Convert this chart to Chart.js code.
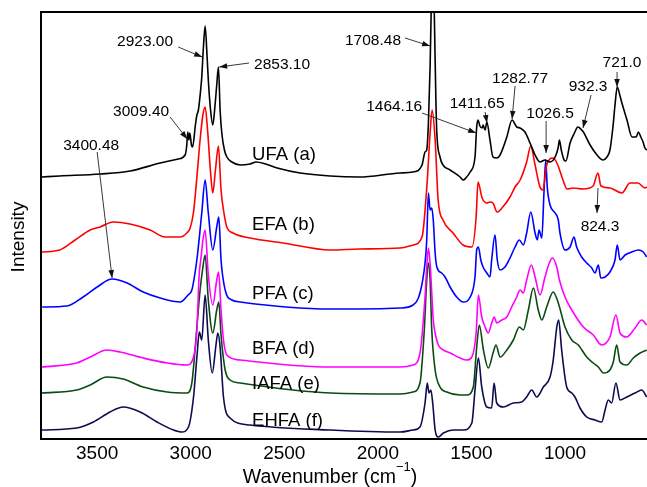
<!DOCTYPE html>
<html><head><meta charset="utf-8">
<script src="https://cdn.jsdelivr.net/npm/chart.js@4/dist/chart.umd.min.js"></script>
<style>html,body{margin:0;padding:0;background:#fff;overflow:hidden}</style>
</head><body>
<canvas id="c" width="647" height="487"></canvas>
<script>
// ---- data (wavenumber cm^-1, relative intensity with stacking offset) ----
const tickValues = [3500, 3000, 2500, 2000, 1500, 1000];

const wUFA = [3795,3700,3484,3324,3163,3067,3030,3021,3016,3010,3005,2996,2990,2975,2967,2959,2947,2941,2933,2923,2913,2906,2895,2882,2870,2861,2852,2843,2834,2820,2807,2780,2736,2683,2650,2600,2538,2415,2255,2100,1881,1812,1764,1748,1739,1730,1721,1716,1710,1704,1698,1690,1685,1668,1652,1614,1561,1545,1530,1507,1481,1472,1465,1455,1443,1438,1427,1418,1401,1385,1365,1347,1311,1283,1258,1240,1214,1187,1160,1134,1107,1080,1053,1037,1030,1020,1005,995,973,950,931,911,902,866,829,797,776,760,744,733,721,706,696,669,642,620,608,595,583,573,562];
const iUFA = [262,263,265,268,276,280,284,294,307,299,306,294,292,314,324,329,349,362,389,413,384,359,331,314,334,354,372,329,306,289,282,277,274,275,277,275,271,266,263,262,266,267,274,287,289,316,372,420,470,470,420,339,306,282,274,269,262,259,261,267,282,312,319,313,311,314,309,317,299,282,281,284,302,319,312,311,307,296,284,277,279,277,282,291,299,289,279,278,296,306,312,309,307,294,284,279,282,289,312,334,352,343,336,319,302,302,307,302,297,291,289];

const wEFA = [3795,3700,3618,3537,3484,3415,3324,3217,3137,3056,3021,3003,2985,2967,2950,2935,2923,2910,2895,2882,2868,2852,2838,2825,2807,2774,2683,2506,2255,2100,1881,1812,1764,1737,1721,1710,1694,1678,1652,1598,1545,1497,1475,1465,1443,1417,1401,1385,1363,1337,1294,1267,1240,1205,1183,1160,1134,1118,1098,1064,1041,1011,989,957,904,850,824,808,760,696,653,610,573,562];
const iEFA = [187,189,199,209,212,217,215,209,202,202,206,211,227,262,299,324,332,309,269,246,269,293,249,229,212,206,201,196,189,190,191,194,202,256,306,329,299,239,219,206,194,192,222,257,241,236,237,236,227,231,242,252,259,277,293,274,252,249,274,281,275,259,250,251,250,253,266,253,251,246,256,256,251,252];

const wPFA = [3794,3662,3575,3500,3420,3340,3254,3163,3056,3014,2994,2977,2964,2941,2923,2906,2882,2861,2850,2838,2816,2780,2736,2255,2100,1881,1812,1775,1748,1739,1730,1721,1712,1704,1694,1685,1659,1641,1614,1579,1543,1507,1481,1472,1463,1450,1438,1418,1401,1392,1374,1362,1347,1321,1294,1267,1244,1223,1205,1183,1160,1148,1139,1124,1112,1103,1095,1080,1053,1036,1027,1000,973,952,938,911,884,857,840,822,809,786,760,733,721,706,679,644,608,582,564];
const iPFA = [132,133,142,152,160,156,147,141,137,144,149,166,184,226,259,226,189,212,222,179,149,139,137,130,130,131,134,146,176,199,246,229,231,219,186,172,166,162,152,142,137,142,162,189,192,179,172,166,162,179,204,179,169,172,181,192,199,194,206,227,206,199,209,201,249,279,252,234,226,219,206,189,192,202,192,182,176,171,166,174,161,162,167,179,194,179,184,187,189,187,182];

const wBFA = [3795,3609,3537,3448,3377,3254,3126,3021,2985,2967,2955,2945,2935,2923,2906,2882,2861,2851,2838,2825,2807,2736,2255,1881,1812,1775,1748,1739,1730,1721,1712,1704,1694,1677,1650,1614,1561,1525,1498,1475,1463,1445,1427,1410,1392,1378,1365,1338,1311,1285,1258,1240,1223,1205,1180,1160,1134,1107,1084,1068,1044,1030,1000,964,902,849,804,760,728,706,670,626,590,564];
const iBFA = [72,76,82,89,87,81,76,74,82,109,164,181,199,209,164,134,159,167,129,99,84,79,72,72,74,86,142,172,191,176,146,119,106,94,89,86,81,79,82,106,144,122,112,106,116,122,116,119,122,132,142,149,146,159,174,162,144,162,176,181,172,159,142,129,112,104,94,102,124,106,102,111,119,114];

const wIAFA = [3795,3609,3537,3448,3361,3254,3126,3021,2994,2977,2964,2950,2937,2923,2906,2882,2861,2850,2838,2816,2790,2736,2255,1881,1812,1775,1752,1739,1730,1721,1712,1694,1668,1632,1561,1525,1490,1472,1458,1436,1410,1383,1369,1347,1311,1276,1244,1223,1196,1169,1143,1124,1098,1063,1036,1000,964,929,884,849,822,795,760,742,724,706,670,635,599,564];
const iIAFA = [46,49,54,62,60,52,47,46,56,89,119,149,169,184,139,106,129,137,104,69,59,56,46,45,47,56,109,159,176,159,109,69,52,47,44,44,52,92,114,89,71,87,94,82,89,99,112,109,129,151,129,119,132,147,136,112,99,94,82,76,72,66,69,77,94,77,74,81,86,89];

const wEHFA = [3795,3609,3520,3431,3361,3270,3180,3092,3048,3012,2985,2967,2954,2941,2923,2906,2885,2865,2855,2843,2825,2790,2683,2255,1881,1812,1775,1748,1736,1727,1717,1707,1694,1677,1650,1597,1543,1498,1481,1463,1445,1418,1392,1379,1365,1330,1276,1231,1205,1178,1151,1116,1080,1063,1044,1034,1018,991,964,947,920,884,840,804,786,769,751,728,706,670,626,590,564];
const iEHFA = [9,11,17,27,32,27,17,9,7,12,42,82,107,99,144,99,66,94,106,92,42,21,14,9,7,9,12,36,56,46,49,36,9,2,6,9,9,16,49,81,52,32,31,56,36,32,36,37,42,49,42,52,62,79,112,119,89,52,46,42,31,22,19,17,29,39,36,56,39,42,46,49,42];

const seriesNames = ['UFA (a)', 'EFA (b)', 'PFA (c)', 'BFA (d)', 'IAFA (e)', 'EHFA (f)'];
// label anchor (wavenumber, intensity) for each series name
const labelW = [2672, 2672, 2672, 2672, 2672, 2672];
const labelI = [284, 214, 145, 90, 55, 18];

// peak annotations: text, text position, arrow start, arrow end (data units)
const peakText = ['2923.00','2853.10','3009.40','3400.48','1708.48','1464.16','1411.65','1282.77','1026.5','932.3','721.0','824.3'];
const peakTW = [3244, 2512, 3265, 3532, 2026, 1913, 1470, 1240, 1080, 877, 696, 813];
const peakTI = [397, 374, 327, 293, 398, 332, 335, 360, 325, 352, 376, 212];
const arrW1 = [3067, 2688, 3110, 3500, 1855, 1764, 1427, 1267, 1101, 861, 722, 824];
const arrI1 = [392, 376, 322, 287, 401, 326, 327, 353, 318, 344, 367, 251];
const arrW2 = [2939, 2848, 3019, 3420, 1721, 1475, 1417, 1283, 1101, 904, 722, 829];
const arrI2 = [382, 372, 300, 161, 393, 306, 316, 320, 286, 311, 352, 226];

// ---- build ----
const colors = ['#000000', '#ff0000', '#0000ff', '#ff00ff', '#0b4a12', '#0c0c4e'];
const allW = [wUFA, wEFA, wPFA, wBFA, wIAFA, wEHFA];
const allI = [iUFA, iEFA, iPFA, iBFA, iIAFA, iEHFA];
function zip(w, v) { const n = Math.min(w.length, v.length); const o = []; for (let k = 0; k < n; k++) o.push({x: w[k], y: v[k]}); return o; }

const FONT = '"Liberation Sans", Arial, Helvetica, sans-serif';

const decor = {
  id: 'decor',
  afterDatasetsDraw(chart) {
    const {ctx, chartArea: a, scales: {x, y}} = chart;
    ctx.save();
    // frame (left, top, bottom)
    ctx.strokeStyle = '#000';
    ctx.lineWidth = 2;
    ctx.beginPath();
    ctx.moveTo(a.right + 2, a.top); ctx.lineTo(a.left, a.top); ctx.lineTo(a.left, a.bottom); ctx.lineTo(a.right + 2, a.bottom);
    ctx.stroke();
    // series labels
    ctx.fillStyle = '#000';
    ctx.font = '18.5px ' + FONT;
    ctx.textAlign = 'left'; ctx.textBaseline = 'middle';
    seriesNames.forEach((s, k) => ctx.fillText(s, x.getPixelForValue(labelW[k]), y.getPixelForValue(labelI[k])));
    // peak annotations
    ctx.font = '15.5px ' + FONT;
    ctx.textAlign = 'center';
    peakText.forEach((t, k) => {
      ctx.fillStyle = '#000';
      ctx.fillText(t, x.getPixelForValue(peakTW[k]), y.getPixelForValue(peakTI[k]));
      const x1 = x.getPixelForValue(arrW1[k]), y1 = y.getPixelForValue(arrI1[k]);
      const x2 = x.getPixelForValue(arrW2[k]), y2 = y.getPixelForValue(arrI2[k]);
      ctx.strokeStyle = '#222'; ctx.lineWidth = 0.9;
      ctx.beginPath(); ctx.moveTo(x1, y1); ctx.lineTo(x2, y2); ctx.stroke();
      const ang = Math.atan2(y2 - y1, x2 - x1), L = 8, H = 2.8;
      ctx.fillStyle = '#111';
      ctx.beginPath();
      ctx.moveTo(x2, y2);
      ctx.lineTo(x2 - L * Math.cos(ang) + H * Math.sin(ang), y2 - L * Math.sin(ang) - H * Math.cos(ang));
      ctx.lineTo(x2 - L * Math.cos(ang) - H * Math.sin(ang), y2 - L * Math.sin(ang) + H * Math.cos(ang));
      ctx.closePath(); ctx.fill();
    });
    // axis titles
    ctx.fillStyle = '#000';
    ctx.textAlign = 'left'; ctx.textBaseline = 'alphabetic';
    const main = 'Wavenumber (cm', sup = '\u22121', close = ')';
    ctx.font = '19.5px ' + FONT; const w1 = ctx.measureText(main).width, w3 = ctx.measureText(close).width;
    ctx.font = '13px ' + FONT; const w2 = ctx.measureText(sup).width;
    let sx = 330 - (w1 + w2 + w3) / 2;
    const base = 483;
    ctx.font = '19.5px ' + FONT; ctx.fillText(main, sx, base); sx += w1;
    ctx.font = '13px ' + FONT; ctx.fillText(sup, sx, base - 12); sx += w2;
    ctx.font = '19.5px ' + FONT; ctx.fillText(close, sx, base);
    ctx.translate(19, 237);
    ctx.rotate(-Math.PI / 2);
    ctx.textAlign = 'center'; ctx.textBaseline = 'middle';
    ctx.font = '19px ' + FONT;
    ctx.fillText('Intensity', 0, 0);
    ctx.restore();
  }
};

new Chart(document.getElementById('c'), {
  type: 'line',
  data: {
    datasets: seriesNames.map((n, k) => ({
      label: n, data: zip(allW[k], allI[k]), borderColor: colors[k], borderWidth: 1.6,
      pointRadius: 0, fill: false, cubicInterpolationMode: 'monotone'
    }))
  },
  options: {
    responsive: false, animation: false, devicePixelRatio: 1,
    layout: {padding: {left: 41, top: 12, right: 0, bottom: 0}},
    plugins: {legend: {display: false}, tooltip: {enabled: false}},
    scales: {
      x: {
        type: 'linear', reverse: true, min: 562, max: 3800,
        grid: {display: false, drawTicks: false},
        border: {display: false},
        ticks: {color: '#000', font: {family: FONT, size: 19}, padding: 3, includeBounds: false, maxRotation: 0, autoSkip: false,
                callback: v => String(v)},
        afterBuildTicks: s => { s.ticks = tickValues.map(v => ({value: v})); },
        afterFit: s => { s.height = 48; }
      },
      y: {
        display: false, min: 0, max: 427
      }
    }
  },
  plugins: [decor]
});
</script>
</body></html>
